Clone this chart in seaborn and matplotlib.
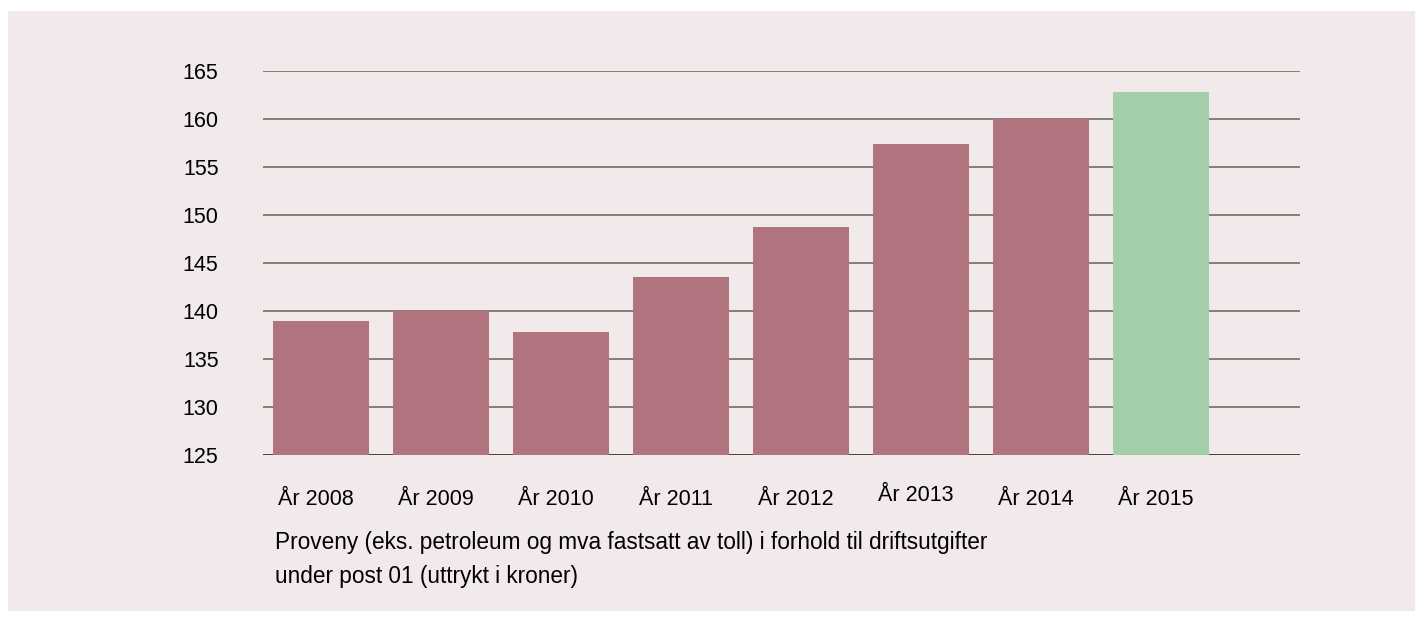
import pandas as pd
import seaborn as sns
import matplotlib.pyplot as plt
from matplotlib.patches import Rectangle
from matplotlib.transforms import ScaledTranslation

# data
years = ["År 2008", "År 2009", "År 2010", "År 2011", "År 2012", "År 2013", "År 2014", "År 2015"]
values = [139.0, 140.0, 137.8, 143.5, 148.7, 157.4, 160.0, 162.8]
kind = ["actual"] * 7 + ["budget"]
y_ticks = [125, 130, 135, 140, 145, 150, 155, 160, 165]
caption_lines = ["Proveny (eks. petroleum og mva fastsatt av toll) i forhold til driftsutgifter",
                 "under post 01 (uttrykt i kroner)"]

df = pd.DataFrame({"year": years, "value": values, "kind": kind})

sns.set_style("white")
plt.rcParams["font.family"] = ["Liberation Sans", "DejaVu Sans"]

bg = "#f2e9ea"
fig = plt.figure(figsize=(14.24, 6.21), dpi=100)
fig.patch.set_facecolor("white")
fig.patches.append(Rectangle((8 / 1424, 1 - 611 / 621), 1407 / 1424, 600 / 621,
                             transform=fig.transFigure, facecolor=bg,
                             edgecolor="none", zorder=-1))

ax = fig.add_axes([263 / 1424, 1 - 455 / 621, (1300 - 263) / 1424, (455 - 71) / 621])
ax.set_facecolor(bg)

sns.barplot(data=df, x="year", y="value", hue="kind",
            palette={"actual": "#b0747e", "budget": "#a2cfaa"},
            saturation=1, linewidth=0, width=0.8, dodge=False,
            legend=False, ax=ax, zorder=3)

ax.set_ylim(125, 165)
ax.set_xlim(-0.483, 8.158)
ax.set_yticks(y_ticks)
for t in y_ticks:
    ax.axhline(t, color="#7d7373" if t != 125 else "#3a302f", lw=1.3, zorder=1)

for s in ax.spines.values():
    s.set_visible(False)
ax.tick_params(axis="y", length=0, pad=32, labelsize=15.5, labelcolor="black")
ax.tick_params(axis="x", length=0, pad=24.5, labelsize=15.5, labelcolor="black")
ax.set_xlabel("")
ax.set_ylabel("")

# labels sit a little left of the bar centres; the 2013 one a bit higher too
for i, lbl in enumerate(ax.get_xticklabels()):
    dy = 3 / 72 if i == 5 else 0
    lbl.set_transform(lbl.get_transform() + ScaledTranslation(-5 / 100, dy, fig.dpi_scale_trans))

for i, line in enumerate(caption_lines):
    fig.text(275 / 1424, 1 - (543 + 34 * i) / 621, line, fontsize=16.3,
             va="center", ha="left", color="black")

fig.savefig("out.png", dpi=100, facecolor=fig.get_facecolor())
